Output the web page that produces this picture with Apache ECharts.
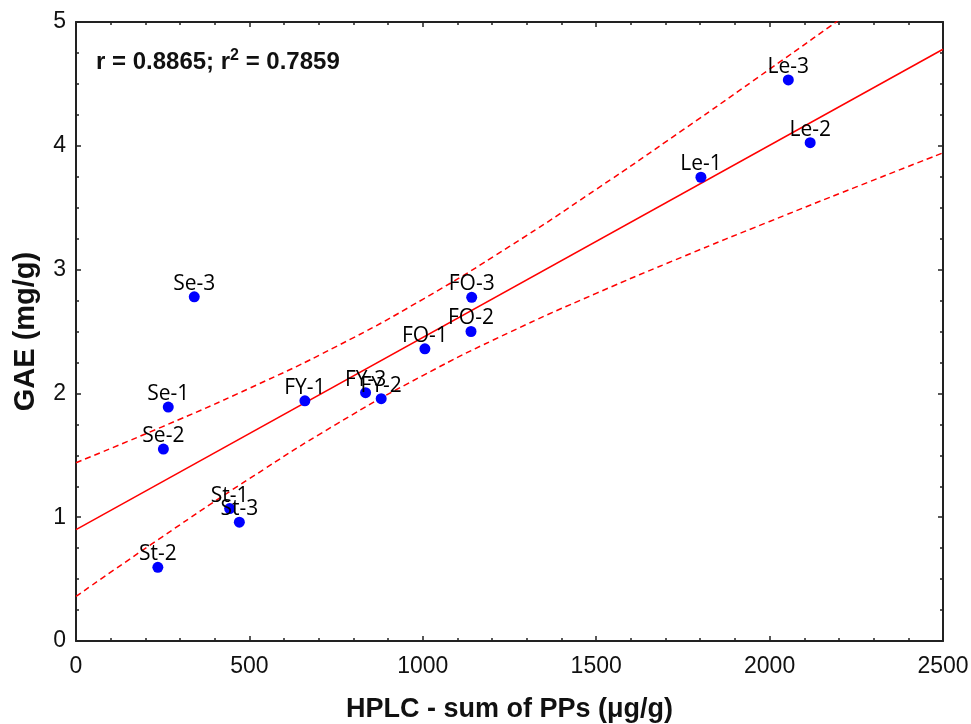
<!DOCTYPE html>
<html>
<head>
<meta charset="utf-8">
<script src="https://cdn.jsdelivr.net/npm/echarts@6/dist/echarts.min.js"></script>
<style>
html,body{margin:0;padding:0;background:#fff;}
#chart{width:971px;height:724px;}
</style>
</head>
<body>
<div id="chart"></div>
<script>
// Sample names and values
const sampleNames = ['Se-1','Se-2','Se-3','St-1','St-2','St-3','FY-1','FY-2','FY-3','FO-1','FO-2','FO-3','Le-1','Le-2','Le-3'];
const hplcSum    = [266, 252, 341, 443, 236, 471, 660, 880, 835, 1006, 1139, 1141, 1802, 2117, 2054];
const gaeValues  = [1.89, 1.55, 2.78, 1.07, 0.595, 0.96, 1.94, 1.957, 2.006, 2.36, 2.50, 2.776, 3.746, 4.025, 4.532];

// Regression line end points
const fitX = [0, 2500];
const fitY = [0.90, 4.78];

// 95% confidence band, read at these x positions
const bandX     = [0, 250, 500, 750, 1000, 1250, 1500, 1750, 2000, 2250, 2500];
const bandUpper = [1.44, 1.732, 2.041, 2.378, 2.760, 3.187, 3.648, 4.128, 4.619, 5.116, 5.617];
const bandLower = [0.36, 0.844, 1.311, 1.750, 2.144, 2.493, 2.808, 3.104, 3.389, 3.668, 3.943];

// Axis ticks
const xTicks = {min: 0, max: 2500, interval: 500};
const yTicks = {min: 0, max: 5, interval: 1};

const chart = echarts.init(document.getElementById('chart'), null, {renderer: 'canvas'});

const axisLineStyle = {color: '#222', width: 2};
const tickStyle = {color: '#222', width: 1.5};
const labelFont = {fontFamily: '"Liberation Sans", Arial, sans-serif', fontSize: 23, color: '#111'};

const pts = hplcSum.map((x, i) => ({name: sampleNames[i], value: [x, gaeValues[i]]}));

chart.setOption({
  animation: false,
  backgroundColor: '#fff',
  grid: {left: 76, right: 28, top: 22, bottom: 83, containLabel: false, outerBoundsMode: 'none'},
  xAxis: [{
    type: 'value', min: xTicks.min, max: xTicks.max, interval: xTicks.interval,
    position: 'bottom',
    name: 'HPLC - sum of PPs (\u03bcg/g)', nameLocation: 'middle', nameGap: 55,
    nameTextStyle: {fontFamily: '"Liberation Sans", Arial, sans-serif', fontSize: 27, fontWeight: 'bold', color: '#111'},
    axisLine: {show: true, onZero: false, lineStyle: axisLineStyle},
    axisTick: {show: true, inside: true, length: 5, lineStyle: tickStyle},
    minorTick: {show: true, splitNumber: 5, length: 3, lineStyle: tickStyle},
    axisLabel: Object.assign({margin: 14, formatter: v => String(v)}, labelFont),
    splitLine: {show: false}
  }, {
    type: 'value', min: xTicks.min, max: xTicks.max, interval: xTicks.interval,
    position: 'top',
    axisLine: {show: true, onZero: false, lineStyle: axisLineStyle},
    axisTick: {show: true, inside: true, length: 5, lineStyle: tickStyle},
    minorTick: {show: true, splitNumber: 5, length: 3, lineStyle: tickStyle},
    axisLabel: {show: false},
    splitLine: {show: false}
  }],
  yAxis: [{
    type: 'value', min: yTicks.min, max: yTicks.max, interval: yTicks.interval,
    position: 'left',
    name: 'GAE (mg/g)', nameLocation: 'middle', nameGap: 36,
    nameTextStyle: {fontFamily: '"Liberation Sans", Arial, sans-serif', fontSize: 29, fontWeight: 'bold', color: '#111'},
    axisLine: {show: true, onZero: false, lineStyle: axisLineStyle},
    axisTick: {show: true, inside: true, length: 5, lineStyle: tickStyle},
    minorTick: {show: true, splitNumber: 4, length: 3, lineStyle: tickStyle},
    axisLabel: Object.assign({margin: 10, formatter: v => String(v)}, labelFont),
    splitLine: {show: false}
  }, {
    type: 'value', min: yTicks.min, max: yTicks.max, interval: yTicks.interval,
    position: 'right',
    axisLine: {show: true, onZero: false, lineStyle: axisLineStyle},
    axisTick: {show: true, inside: true, length: 5, lineStyle: tickStyle},
    minorTick: {show: true, splitNumber: 4, length: 3, lineStyle: tickStyle},
    axisLabel: {show: false},
    splitLine: {show: false}
  }],
  graphic: [{
    type: 'text', left: 96, top: 48, z: 100,
    style: {
      text: '{a|r = 0.8865; r}{s|2}{a| = 0.7859}',
      rich: {
        a: {fontFamily: '"Liberation Sans", Arial, sans-serif', fontSize: 24, fontWeight: 'bold', fill: '#111', lineHeight: 28},
        s: {fontFamily: '"Liberation Sans", Arial, sans-serif', fontSize: 16, fontWeight: 'bold', fill: '#111', verticalAlign: 'top', lineHeight: 28, padding: [0, 0, 14, 0]}
      }
    }
  }],
  series: [{
    type: 'line', name: 'fit', xAxisIndex: 0, yAxisIndex: 0,
    data: fitX.map((x, i) => [x, fitY[i]]),
    showSymbol: false, symbol: 'none', clip: true,
    lineStyle: {color: '#ff0000', width: 1.5}, z: 2
  }, {
    type: 'line', name: 'upper', xAxisIndex: 0, yAxisIndex: 0,
    data: bandX.map((x, i) => [x, bandUpper[i]]),
    smooth: true, showSymbol: false, symbol: 'none', clip: true,
    lineStyle: {color: '#ff0000', width: 1.5, type: [6, 4]}, z: 2
  }, {
    type: 'line', name: 'lower', xAxisIndex: 0, yAxisIndex: 0,
    data: bandX.map((x, i) => [x, bandLower[i]]),
    smooth: true, showSymbol: false, symbol: 'none', clip: true,
    lineStyle: {color: '#ff0000', width: 1.5, type: [6, 4]}, z: 2
  }, {
    type: 'scatter', name: 'samples', xAxisIndex: 0, yAxisIndex: 0,
    data: pts, symbol: 'circle', symbolSize: 11,
    itemStyle: {color: '#0000ff', opacity: 1}, z: 5,
    label: {
      show: true, position: 'top', distance: 0, offset: [0, 3],
      formatter: p => p.name,
      fontFamily: '"Open Sans", "Noto Sans", sans-serif', fontSize: 21, color: '#000'
    }
  }]
});
</script>
</body>
</html>
